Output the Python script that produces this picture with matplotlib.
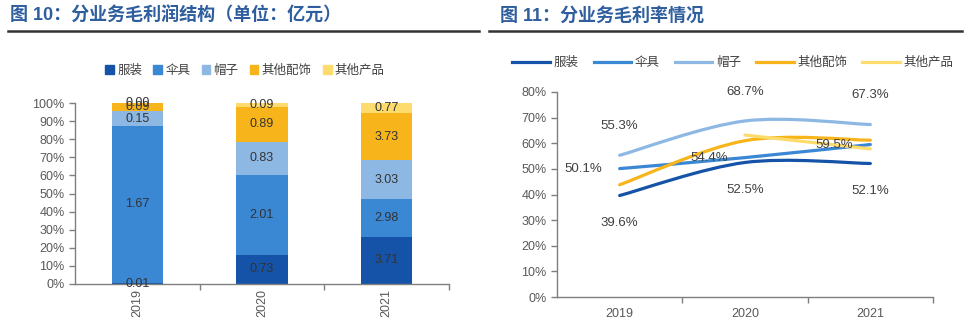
import numpy as np
import matplotlib
matplotlib.use("Agg")
import matplotlib.pyplot as plt
from matplotlib.path import Path
from matplotlib.patches import PathPatch, Patch
from matplotlib.lines import Line2D

plt.rcParams['font.family'] = ['Liberation Sans', 'Noto Sans CJK SC']

# 数据
years = ['2019', '2020', '2021']
segments = ['服装', '伞具', '帽子', '其他配饰', '其他产品']
colors = ['#1553A8', '#3A87D4', '#8DB8E4', '#F7B51B', '#FDDB6D']

# 毛利润（亿元）
profit_apparel = [0.01, 0.73, 3.71]
profit_umbrella = [1.67, 2.01, 2.98]
profit_hat = [0.15, 0.83, 3.03]
profit_accessory = [0.09, 0.89, 3.73]
profit_other = [0.00, 0.09, 0.77]

# 毛利率（%）
margin_apparel = [39.6, 52.5, 52.1]
margin_umbrella = [50.1, 54.4, 59.5]
margin_hat = [55.3, 68.7, 67.3]
margin_accessory = [43.8, 61.0, 61.2]
margin_other = [np.nan, 63.2, 57.8]

W, H = 968, 332
fig = plt.figure(figsize=(W / 100, H / 100), dpi=100)

title_color = '#2F5E9F'
text_color = '#404040'
tick_color = '#595959'
spine_color = '#7F7F7F'


def px_axes(x0, y0, x1, y1):
    # 用像素坐标定位坐标轴
    return fig.add_axes([x0 / W, 1 - y1 / H, (x1 - x0) / W, (y1 - y0) / H])


def style_axes(ax):
    for s in ['top', 'right']:
        ax.spines[s].set_visible(False)
    for s in ['left', 'bottom']:
        ax.spines[s].set_color(spine_color)
        ax.spines[s].set_linewidth(1)
    ax.tick_params(axis='y', colors=spine_color, labelcolor=tick_color,
                   labelsize=9, length=4, width=1)
    ax.tick_params(axis='x', which='minor', colors=spine_color, length=4, width=1)
    ax.tick_params(axis='x', which='major', length=0, labelcolor=tick_color, labelsize=9)
    ax.set_xlim(-0.5, 2.5)
    ax.set_xticks(np.arange(3))
    ax.set_xticks([0.5, 1.5, 2.5], minor=True)


# 标题与分隔线
fig.text(10 / W, 1 - 16 / H, '图 10：分业务毛利润结构（单位：亿元）', color=title_color,
         fontsize=13, fontweight='bold', va='center', ha='left')
fig.text(500 / W, 1 - 16 / H, '图 11：分业务毛利率情况', color=title_color,
         fontsize=13, fontweight='bold', va='center', ha='left')
fig.add_artist(Line2D([8 / W, 479 / W], [1 - 31 / H] * 2, color='#333333', lw=1.8))
fig.add_artist(Line2D([489 / W, 962 / W], [1 - 31 / H] * 2, color='#333333', lw=1.8))

# 左图：毛利润结构（百分比堆积柱）
ax1 = px_axes(75, 103, 449, 284)
style_axes(ax1)
profits = np.array([profit_apparel, profit_umbrella, profit_hat,
                    profit_accessory, profit_other])
totals = profits.sum(axis=0)
shares = profits / totals
x = np.arange(len(years))
bottom = np.zeros(len(years))
for i, seg in enumerate(segments):
    ax1.bar(x, shares[i], 0.41, bottom=bottom, color=colors[i], label=seg, zorder=2)
    for j in range(len(years)):
        ax1.text(x[j], bottom[j] + shares[i][j] / 2, f'{profits[i][j]:.2f}',
                 ha='center', va='center', fontsize=9, color='#333333', zorder=3)
    bottom += shares[i]
ax1.set_ylim(0, 1)
ax1.set_yticks(np.arange(0, 1.01, 0.1))
ax1.set_yticklabels([f'{int(round(v * 100))}%' for v in np.arange(0, 1.01, 0.1)])
ax1.set_xticklabels(years, rotation=90)

fig.legend(handles=[Patch(color=c, label=s) for c, s in zip(colors, segments)],
           loc='center', bbox_to_anchor=(245 / W, 1 - 71 / H), ncol=5, frameon=False,
           fontsize=9, handlelength=0.7, handleheight=0.7, handletextpad=0.25,
           columnspacing=0.9, labelcolor=text_color)

# 右图：毛利率（平滑折线）
ax2 = px_axes(557, 92, 933, 297)
style_axes(ax2)
ax2.set_ylim(0, 80)
ax2.set_yticks(np.arange(0, 81, 10))
ax2.set_yticklabels([f'{v}%' for v in range(0, 81, 10)])
ax2.set_xticklabels(years)
ax2.tick_params(axis='x', which='major', pad=8)


def smooth_path(xs, ys):
    pts = np.column_stack([xs, ys])
    verts = [pts[0]]
    codes = [Path.MOVETO]
    n = len(pts)
    for i in range(n - 1):
        p0 = pts[max(i - 1, 0)]
        p1 = pts[i]
        p2 = pts[i + 1]
        p3 = pts[min(i + 2, n - 1)]
        verts += [p1 + (p2 - p0) / 6, p2 - (p3 - p1) / 6, p2]
        codes += [Path.CURVE4] * 3
    return Path(verts, codes)


margins = [margin_apparel, margin_umbrella, margin_hat, margin_accessory, margin_other]
for m, c in zip(margins, colors):
    m = np.array(m, dtype=float)
    ok = ~np.isnan(m)
    patch = PathPatch(smooth_path(x[ok].astype(float), m[ok]), facecolor='none',
                      edgecolor=c, lw=2.3, capstyle='round', zorder=2)
    ax2.add_patch(patch)

label_kw = dict(textcoords='offset points', fontsize=9.5, color=text_color,
                ha='center', va='center')
for j in range(3):
    ax2.annotate(f'{margin_apparel[j]:.1f}%', (x[j], margin_apparel[j]),
                 xytext=(0, -20), **label_kw)
    ax2.annotate(f'{margin_hat[j]:.1f}%', (x[j], margin_hat[j]),
                 xytext=(0, 21), **label_kw)
    ax2.annotate(f'{margin_umbrella[j]:.1f}%', (x[j], margin_umbrella[j]),
                 xytext=(-26, 0), **label_kw)

fig.legend(handles=[Line2D([], [], color=c, lw=2.3, label=s) for c, s in zip(colors, segments)],
           loc='center', bbox_to_anchor=(733 / W, 1 - 63 / H), ncol=5, frameon=False,
           fontsize=9, handlelength=3.0, handletextpad=0.3, columnspacing=1.2,
           labelcolor=text_color)

fig.savefig('out.png', dpi=100)
